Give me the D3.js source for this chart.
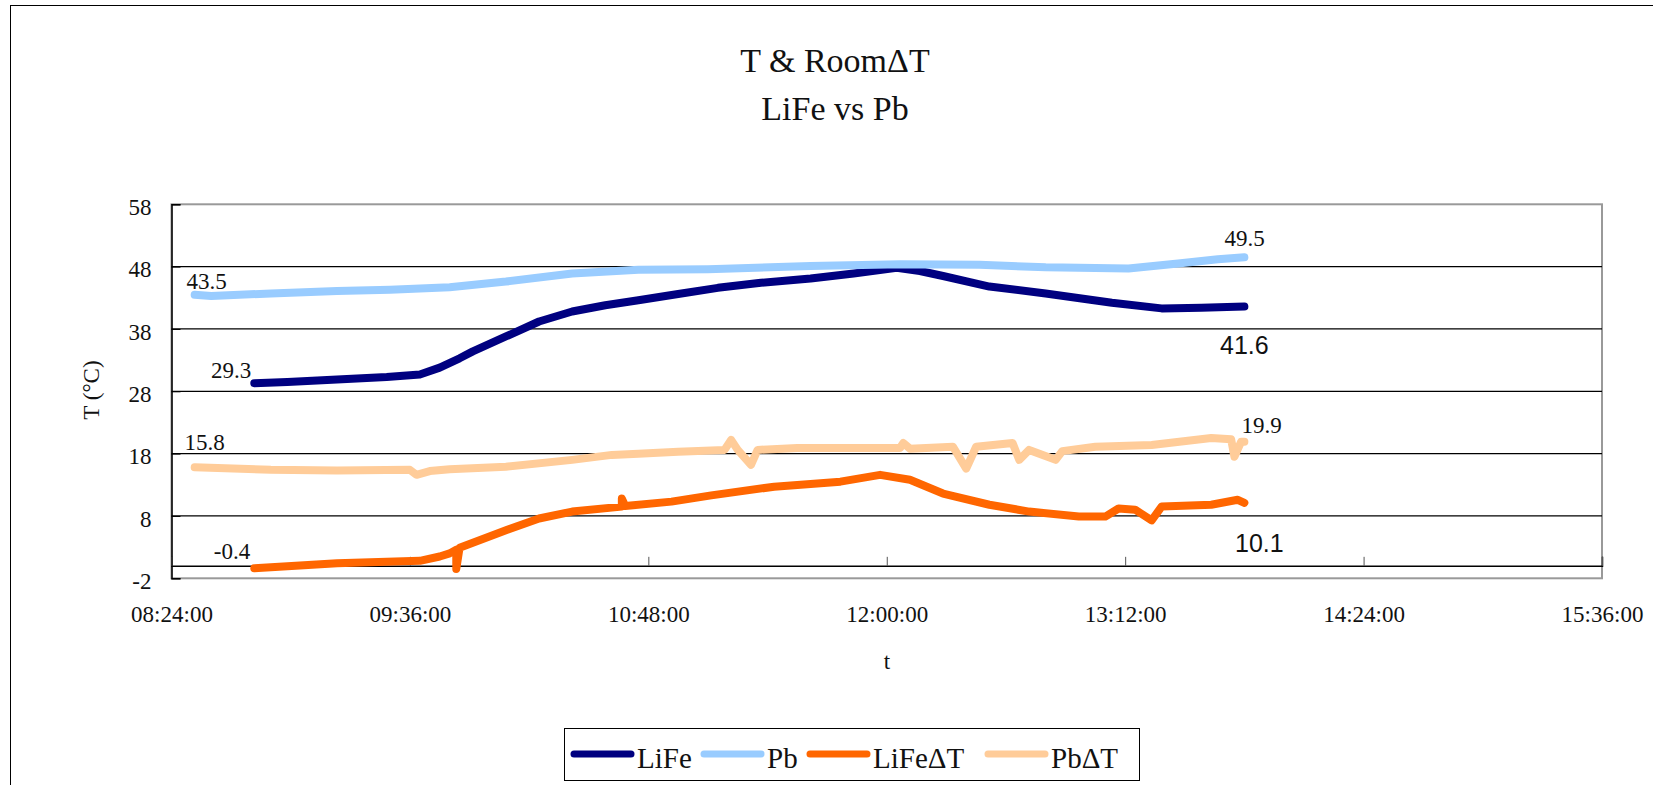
<html>
<head>
<meta charset="utf-8">
<script src="https://d3js.org/d3.v7.min.js"></script>
<style>
body { margin: 0; background: #fff; }
svg { display: block; font-family: "Liberation Serif", "Times New Roman", serif; }
text { font-family: "Liberation Serif", "Times New Roman", serif; fill: #111; }
.grid line { stroke: #000; stroke-width: 1.2; }
.series { fill: none; stroke-width: 8; stroke-linecap: round; stroke-linejoin: round; }
</style>
</head>
<body>
<div id="chart"></div>
<script>

// ---- data (time, temperature in degC) ----
var life = [
  ["08:49", 29.3], ["08:59", 29.5], ["09:14", 29.9], ["09:29", 30.3], ["09:39", 30.7],
  ["09:45", 31.8], ["09:51", 33.3], ["09:55", 34.4], ["10:05", 36.8], ["10:15", 39.2],
  ["10:25", 40.8], ["10:35", 41.8], ["10:45", 42.6], ["10:57", 43.6], ["11:09", 44.6],
  ["11:22", 45.4], ["11:37", 46.1], ["11:50", 46.9], ["12:03", 47.8], ["12:10", 47.3],
  ["12:17", 46.5], ["12:31", 44.8], ["12:48", 43.7], ["13:08", 42.2], ["13:23", 41.3],
  ["13:35", 41.4], ["13:48", 41.6]
];
var pb = [
  ["08:31", 43.5], ["08:36", 43.3], ["08:54", 43.7], ["09:14", 44.1], ["09:30", 44.3],
  ["09:48", 44.7], ["10:05", 45.6], ["10:25", 46.9], ["10:45", 47.5], ["11:06", 47.6],
  ["11:37", 48.1], ["12:04", 48.4], ["12:28", 48.3], ["12:48", 47.9], ["13:13", 47.7],
  ["13:28", 48.5], ["13:40", 49.2], ["13:48", 49.5]
];
var lifeDT = [
  ["08:49", -0.4], ["09:14", 0.4], ["09:39", 0.8], ["09:45", 1.5], ["09:48", 2.0],
  ["09:50", 2.6], ["09:50", -0.5], ["09:51", 2.9], ["10:05", 5.7], ["10:15", 7.6],
  ["10:25", 8.7], ["10:40", 9.5], ["10:40", 10.8], ["10:41", 9.6], ["10:55", 10.3],
  ["11:07", 11.3], ["11:26", 12.7], ["11:46", 13.5], ["11:58", 14.6], ["12:07", 13.8],
  ["12:17", 11.6], ["12:31", 9.8], ["12:43", 8.7], ["12:58", 7.9], ["13:06", 7.9],
  ["13:10", 9.2], ["13:15", 9.0], ["13:20", 7.3], ["13:23", 9.5], ["13:38", 9.8],
  ["13:46", 10.6], ["13:48", 10.1]
];
var pbDT = [
  ["08:31", 15.8], ["08:54", 15.4], ["09:14", 15.3], ["09:36", 15.4], ["09:38", 14.6],
  ["09:42", 15.2], ["09:48", 15.5], ["10:05", 15.9], ["10:25", 17.0], ["10:37", 17.8],
  ["10:45", 18.0], ["10:57", 18.3], ["11:11", 18.6], ["11:13", 20.2], ["11:15", 18.6],
  ["11:19", 16.2], ["11:21", 18.6], ["11:33", 18.9], ["11:51", 18.9], ["12:04", 18.9],
  ["12:05", 19.7], ["12:07", 18.8], ["12:20", 19.1], ["12:24", 15.6], ["12:27", 19.1],
  ["12:38", 19.7], ["12:40", 17.0], ["12:43", 18.6], ["12:51", 17.0], ["12:53", 18.4],
  ["13:03", 19.1], ["13:20", 19.4], ["13:38", 20.5], ["13:44", 20.3], ["13:45", 17.5],
  ["13:47", 19.9], ["13:48", 19.9]
];

var seriesNames = ["LiFe", "Pb", "LiFe\u0394T", "Pb\u0394T"];
var seriesColors = ["#000080", "#99ccff", "#ff6600", "#ffcc99"];
var seriesData = [life, pb, lifeDT, pbDT];

var yTicks = [-2, 8, 18, 28, 38, 48, 58];
var xTickLabels = ["08:24:00", "09:36:00", "10:48:00", "12:00:00", "13:12:00", "14:24:00", "15:36:00"];

// end-point value labels: text, series index, which end
var pointLabels = [
  ["43.5", 1, "start"], ["29.3", 0, "start"], ["15.8", 3, "start"], ["-0.4", 2, "start"],
  ["49.5", 1, "end"], ["41.6", 0, "end"], ["19.9", 3, "end"], ["10.1", 2, "end"]
];

var width = 1653, height = 785;
var parseHM = d3.timeParse("%H:%M");
var parseHMS = d3.timeParse("%H:%M:%S");

var svg = d3.select("#chart").append("svg")
  .attr("width", width).attr("height", height);

// chart frame
svg.append("rect").attr("x", 10.5).attr("y", 5.5)
  .attr("width", 1700).attr("height", 900)
  .attr("fill", "#fff").attr("stroke", "#000").attr("stroke-width", 1);

var xScale = d3.scaleTime()
  .domain([parseHMS(xTickLabels[0]), parseHMS(xTickLabels[xTickLabels.length - 1])])
  .range([171.5, 1602]);
var yScale = d3.scaleLinear().domain([-2, 58]).range([578.3, 204.3]);

// plot area border
svg.append("rect")
  .attr("x", xScale.range()[0]).attr("y", yScale(58))
  .attr("width", xScale.range()[1] - xScale.range()[0])
  .attr("height", yScale(-2) - yScale(58))
  .attr("fill", "none").attr("stroke", "#999").attr("stroke-width", 2);

// horizontal gridlines
svg.append("g").attr("class", "grid")
  .selectAll("line").data(yTicks.filter(function (d) { return d > -2 && d < 58; }))
  .enter().append("line")
  .attr("x1", xScale.range()[0]).attr("x2", xScale.range()[1])
  .attr("y1", function (d) { return yScale(d); })
  .attr("y2", function (d) { return yScale(d); });

// y axis
var yAxis = svg.append("g")
  .attr("transform", "translate(" + xScale.range()[0] + ",0)")
  .call(d3.axisLeft(yScale).tickValues(yTicks).tickFormat(String).tickSize(-9).tickPadding(20));
yAxis.attr("font-family", null);
yAxis.select(".domain").attr("stroke", "#000").attr("stroke-width", 1.5);
yAxis.selectAll(".tick line").attr("stroke", "#000");
yAxis.selectAll("text")
  .style("font-size", "23px").attr("fill", "#111").attr("dy", "0.45em");

// x axis crosses at 0, ticks point up; labels sit below the plot
var xAxis = svg.append("g")
  .attr("transform", "translate(0," + yScale(0) + ")")
  .call(d3.axisBottom(xScale)
    .tickValues(xTickLabels.map(function (s) { return parseHMS(s); }))
    .tickFormat(d3.timeFormat("%H:%M:%S"))
    .tickSize(-9).tickPadding(40));
xAxis.attr("font-family", null);
xAxis.select(".domain").attr("stroke", "#000").attr("stroke-width", 1.5);
xAxis.selectAll(".tick line").attr("stroke", "#555");
xAxis.selectAll("text").style("font-size", "23px").attr("fill", "#111");

// series
var line = d3.line()
  .x(function (d) { return xScale(parseHM(d[0])); })
  .y(function (d) { return yScale(d[1]); });

svg.selectAll("path.series").data(seriesData).enter().append("path")
  .attr("class", "series")
  .attr("stroke", function (d, i) { return seriesColors[i]; })
  .attr("d", line);

// end labels, placed relative to the point they describe
var labelOffsets = {
  "43.5": [32, -6, "end"], "29.3": [-3, -5, "end"], "15.8": [30, -17, "end"], "-0.4": [-4, -9, "end"],
  "49.5": [-20, -11, "start"], "19.9": [-3, -9, "start"],
  "41.6": [0, 47, "middle"], "10.1": [15, 49, "middle"]
};
pointLabels.forEach(function (p) {
  var data = seriesData[p[1]];
  var pt = p[2] === "start" ? data[0] : data[data.length - 1];
  var off = labelOffsets[p[0]];
  var t = svg.append("text").text(p[0])
    .attr("x", xScale(parseHM(pt[0])) + off[0])
    .attr("y", yScale(pt[1]) + off[1])
    .attr("text-anchor", off[2]);
  if (p[2] === "end" && (p[1] === 0 || p[1] === 2)) {
    t.style("font-family", "'Liberation Sans', Arial, sans-serif").style("font-size", "25px").attr("fill", "#000");
  } else {
    t.style("font-size", "23px").attr("fill", "#222");
  }
});

// titles
svg.append("text").attr("x", 835).attr("y", 72).attr("text-anchor", "middle")
  .style("font-size", "34px").text("T & Room\u0394T");
svg.append("text").attr("x", 835).attr("y", 120).attr("text-anchor", "middle")
  .style("font-size", "34px").text("LiFe vs Pb");
svg.append("text").attr("x", 887).attr("y", 669).attr("text-anchor", "middle")
  .style("font-size", "23px").text("t");
svg.append("text").attr("transform", "translate(99,390) rotate(-90)")
  .attr("text-anchor", "middle").style("font-size", "23px").text("T (\u00b0C)");

// legend
var legend = svg.append("g");
legend.append("rect").attr("x", 564.5).attr("y", 728.5).attr("width", 575).attr("height", 52)
  .attr("fill", "#fff").attr("stroke", "#000").attr("stroke-width", 1);
var legendX = [574, 704, 810, 988];
seriesNames.forEach(function (name, i) {
  legend.append("line")
    .attr("x1", legendX[i]).attr("x2", legendX[i] + 57)
    .attr("y1", 754).attr("y2", 754)
    .attr("stroke", seriesColors[i]).attr("stroke-width", 7).attr("stroke-linecap", "round");
  legend.append("text").attr("x", legendX[i] + 63).attr("y", 768)
    .style("font-size", "29px").text(name);
});

</script>
</body>
</html>
